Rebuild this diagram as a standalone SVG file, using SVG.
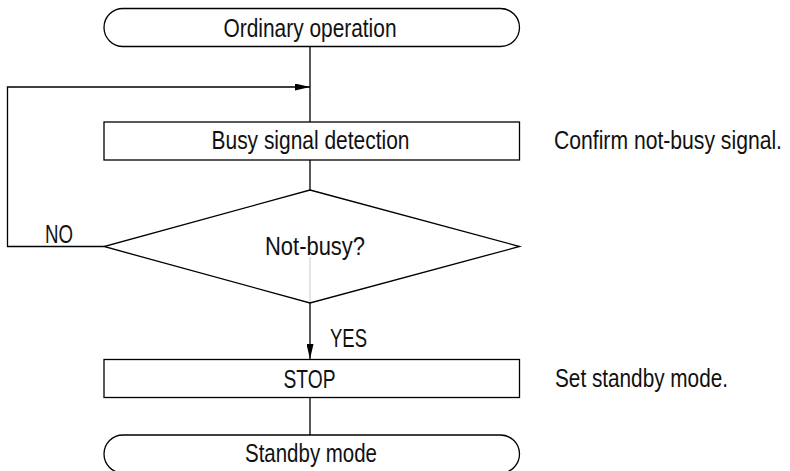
<svg xmlns="http://www.w3.org/2000/svg" width="790" height="471" viewBox="0 0 790 471">
<defs>
<marker id="arr" markerWidth="15" markerHeight="7" refX="15" refY="3.5" orient="auto" markerUnits="userSpaceOnUse">
<path d="M0,0 L15,3.5 L0,7 Z" fill="#000"/>
</marker>
<style>
.s{fill:#fff;stroke:#000;stroke-width:1.3}
.l{fill:none;stroke:#000;stroke-width:1.3}
.t{font-family:"Liberation Sans",Arial,sans-serif;font-size:25px;fill:#111}
</style>
</defs>
<rect width="790" height="471" fill="#fff"/>
<g id="connectors">
<line class="l" x1="310" y1="46.5" x2="310" y2="122"/>
<polyline class="l" points="104,246.5 7.5,246.5 7.5,87 310,87" marker-end="url(#arr)"/>
<line class="l" x1="310" y1="160" x2="310" y2="190"/>
<line x1="310" y1="257" x2="310" y2="303" stroke="#c8c8c8" stroke-width="1"/>
<line class="l" x1="310" y1="303" x2="310" y2="359" marker-end="url(#arr)"/>
<line class="l" x1="310" y1="397.5" x2="310" y2="435"/>
<text class="t" x="45" y="243" textLength="28" lengthAdjust="spacingAndGlyphs">NO</text>
<text class="t" x="330" y="346.5" textLength="37" lengthAdjust="spacingAndGlyphs">YES</text>
</g>
<g id="start">
<rect class="s" x="104" y="8.5" width="415.5" height="38" rx="19" ry="19"/>
<text class="t" x="223.5" y="36.5" textLength="173" lengthAdjust="spacingAndGlyphs">Ordinary operation</text>
</g>
<g id="busy">
<rect class="s" x="104" y="122" width="415.5" height="38"/>
<text class="t" x="211.5" y="148.5" textLength="198" lengthAdjust="spacingAndGlyphs">Busy signal detection</text>
</g>
<g id="decision">
<polygon points="310,190 519.5,246.5 310,303 104,246.5" fill="none" stroke="#000" stroke-width="1.3"/>
<text class="t" x="265" y="255" textLength="100" lengthAdjust="spacingAndGlyphs">Not-busy?</text>
</g>
<g id="stop">
<rect class="s" x="104" y="359.5" width="415.5" height="38"/>
<text class="t" x="283.5" y="388" textLength="52" lengthAdjust="spacingAndGlyphs">STOP</text>
</g>
<g id="end">
<rect class="s" x="104" y="435" width="415.5" height="38" rx="19" ry="19"/>
<text class="t" x="245" y="462" textLength="132" lengthAdjust="spacingAndGlyphs">Standby mode</text>
</g>
<g id="notes">
<text class="t" x="554" y="148.5" textLength="228" lengthAdjust="spacingAndGlyphs">Confirm not-busy signal.</text>
<text class="t" x="555" y="386.5" textLength="173" lengthAdjust="spacingAndGlyphs">Set standby mode.</text>
</g>
</svg>
